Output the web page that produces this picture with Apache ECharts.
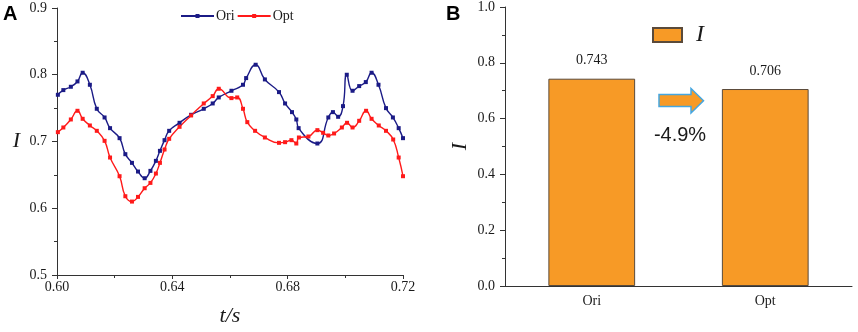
<!DOCTYPE html>
<html>
<head>
<meta charset="utf-8">
<script src="https://cdn.jsdelivr.net/npm/echarts@6/dist/echarts.min.js"></script>
<style>
  html, body { margin: 0; padding: 0; background: #fff; }
  #chart { width: 858px; height: 332px; }
</style>
</head>
<body>
<div id="chart"></div>
<script>
// panel A: I over time, original vs optimised
var tOri = [0.6003, 0.6022, 0.6048, 0.6071, 0.6089, 0.6114, 0.6138, 0.6165, 0.6184, 0.6217,
    0.6237, 0.6260, 0.6281, 0.6304, 0.6324, 0.6343, 0.6357, 0.6373, 0.6389, 0.6425,
    0.6465, 0.6509, 0.6540, 0.6561, 0.6605, 0.6645, 0.6656, 0.6689, 0.6721, 0.6770,
    0.6791, 0.6815, 0.6830, 0.6838, 0.6903, 0.6941, 0.6957, 0.6975, 0.6992, 0.7005,
    0.7025, 0.7048, 0.7071, 0.7091, 0.7115, 0.7141, 0.7165, 0.7185, 0.7200];
var iOri = [0.770, 0.777, 0.782, 0.790, 0.803, 0.785, 0.749, 0.736, 0.720, 0.705,
    0.681, 0.668, 0.655, 0.645, 0.656, 0.671, 0.686, 0.702, 0.716, 0.728,
    0.740, 0.749, 0.757, 0.766, 0.776, 0.785, 0.795, 0.815, 0.793, 0.774,
    0.757, 0.744, 0.733, 0.720, 0.697, 0.736, 0.744, 0.737, 0.753, 0.800,
    0.776, 0.783, 0.789, 0.803, 0.785, 0.750, 0.736, 0.720, 0.705];
var tOpt = [0.6003, 0.6022, 0.6048, 0.6071, 0.6089, 0.6114, 0.6138, 0.6165, 0.6184, 0.6217,
    0.6237, 0.6260, 0.6281, 0.6304, 0.6324, 0.6343, 0.6357, 0.6373, 0.6389, 0.6425,
    0.6465, 0.6509, 0.6540, 0.6561, 0.6605, 0.6625, 0.6645, 0.6660, 0.6687, 0.6721,
    0.6770, 0.6791, 0.6813, 0.6830, 0.6839, 0.6872, 0.6903, 0.6923, 0.6941, 0.6961,
    0.6988, 0.7006, 0.7025, 0.7048, 0.7072, 0.7091, 0.7116, 0.7141, 0.7166, 0.7185,
    0.7200];
var iOpt = [0.714, 0.721, 0.733, 0.746, 0.734, 0.724, 0.716, 0.701, 0.676, 0.648,
    0.618, 0.610, 0.617, 0.630, 0.638, 0.652, 0.668, 0.688, 0.704, 0.722,
    0.739, 0.757, 0.768, 0.779, 0.765, 0.766, 0.749, 0.729, 0.716, 0.706,
    0.698, 0.699, 0.702, 0.697, 0.706, 0.7075, 0.717, 0.713, 0.709, 0.712,
    0.721, 0.728, 0.721, 0.731, 0.746, 0.734, 0.724, 0.716, 0.703, 0.676,
    0.648];

// panel B: mean I
var barCats = ['Ori', 'Opt'];
var barVals = [0.743, 0.706];
var changeText = '-4.9%';

function pairs(xs, ys) {
    return xs.map(function (x, i) { return [x, ys[i]]; });
}

var serif = 'Liberation Serif';
var axisCol = '#333';
var txtCol = '#1a1a1a';

var chart = echarts.init(document.getElementById('chart'));
var option = {
    animation: false,
    backgroundColor: '#fff',
    grid: [
        { left: 57, top: 8, width: 346, height: 278 },
        { left: 505, top: 6, width: 347, height: 280 }
    ],
    legend: [
        {
            data: ['Ori', 'Opt'],
            left: 180,
            top: 9,
            padding: 0,
            itemWidth: 33,
            itemHeight: 5,
            itemGap: 2,
            textStyle: { fontFamily: serif, fontSize: 14, color: txtCol, padding: [0, 0, 0, -3] }
        },
        {
            data: ['I'],
            icon: 'rect',
            left: 652,
            top: 23,
            padding: 0,
            itemWidth: 29,
            itemHeight: 14,
            textStyle: {
                fontFamily: serif, fontStyle: 'italic', fontSize: 24,
                color: txtCol, padding: [0, 0, 0, 9]
            }
        }
    ],
    xAxis: [
        {
            type: 'value', gridIndex: 0,
            min: 0.6, max: 0.72, interval: 0.04,
            name: 't/s', nameLocation: 'middle', nameGap: 30,
            nameTextStyle: { fontFamily: serif, fontStyle: 'italic', fontSize: 22, color: txtCol },
            axisLine: { lineStyle: { color: axisCol } },
            axisTick: { length: 4, lineStyle: { color: axisCol } },
            minorTick: { show: true, splitNumber: 2, length: 3, lineStyle: { color: axisCol } },
            splitLine: { show: false },
            axisLabel: {
                margin: 5, fontFamily: serif, fontSize: 14, color: txtCol,
                formatter: function (v) { return v.toFixed(2); }
            }
        },
        {
            type: 'category', gridIndex: 1, data: barCats,
            axisLine: { lineStyle: { color: axisCol } },
            axisTick: { alignWithLabel: true, length: 4, lineStyle: { color: axisCol } },
            axisLabel: { margin: 8, fontFamily: serif, fontSize: 14, color: txtCol }
        }
    ],
    yAxis: [
        {
            type: 'value', gridIndex: 0,
            min: 0.5, max: 0.9, interval: 0.1,
            name: 'I', nameLocation: 'middle', nameRotate: 0, nameGap: 37,
            nameTextStyle: { fontFamily: serif, fontStyle: 'italic', fontSize: 22, color: txtCol },
            axisLine: { show: true, lineStyle: { color: axisCol } },
            axisTick: { show: true, length: 5, lineStyle: { color: axisCol } },
            minorTick: { show: true, splitNumber: 2, length: 3, lineStyle: { color: axisCol } },
            splitLine: { show: false },
            axisLabel: {
                margin: 10, fontFamily: serif, fontSize: 14, color: txtCol,
                formatter: function (v) { return v.toFixed(1); }
            }
        },
        {
            type: 'value', gridIndex: 1,
            min: 0, max: 1, interval: 0.2,
            name: 'I', nameLocation: 'middle', nameRotate: 90, nameGap: 34,
            nameTextStyle: { fontFamily: serif, fontStyle: 'italic', fontSize: 22, color: txtCol },
            axisLine: { show: true, lineStyle: { color: axisCol } },
            axisTick: { show: true, length: 5, lineStyle: { color: axisCol } },
            minorTick: { show: true, splitNumber: 2, length: 3, lineStyle: { color: axisCol } },
            splitLine: { show: false },
            axisLabel: {
                margin: 10, fontFamily: serif, fontSize: 14, color: txtCol,
                formatter: function (v) { return v.toFixed(1); }
            }
        }
    ],
    series: [
        {
            name: 'Ori', type: 'line', xAxisIndex: 0, yAxisIndex: 0,
            data: pairs(tOri, iOri),
            smooth: 0.5,
            symbol: 'rect', symbolSize: 4,
            lineStyle: { width: 1.4, color: '#1b1b86' },
            itemStyle: { color: '#1b1b86' }
        },
        {
            name: 'Opt', type: 'line', xAxisIndex: 0, yAxisIndex: 0,
            data: pairs(tOpt, iOpt),
            smooth: 0.5,
            symbol: 'rect', symbolSize: 4,
            lineStyle: { width: 1.4, color: '#ff1a1a' },
            itemStyle: { color: '#ff1a1a' }
        },
        {
            name: 'I', type: 'bar', xAxisIndex: 1, yAxisIndex: 1,
            data: barVals,
            barWidth: '50%',
            itemStyle: { color: '#F79A26', borderColor: '#5a4a3a', borderWidth: 1 },
            label: {
                show: true, position: 'top', distance: 11,
                fontFamily: serif, fontSize: 14, color: txtCol,
                formatter: function (p) { return p.value.toFixed(3); }
            }
        }
    ],
    graphic: [
        { type: 'text', left: 3, top: 4, style: { text: 'A', font: 'bold 20px "Liberation Sans"', fill: '#000' } },
        { type: 'text', left: 446, top: 4, style: { text: 'B', font: 'bold 20px "Liberation Sans"', fill: '#000' } },
        {
            type: 'polygon',
            shape: { points: [[659, 94.5], [691, 94.5], [691, 88.5], [703.5, 100.8], [691, 113], [691, 106.5], [659, 106.5]] },
            style: { fill: '#F79A26', stroke: '#45A6E0', lineWidth: 1.5 }
        },
        {
            type: 'text', x: 680, y: 135,
            style: { text: changeText, font: '20px "Liberation Sans"', fill: txtCol, align: 'center', verticalAlign: 'middle' }
        }
    ]
};
chart.setOption(option);
</script>
</body>
</html>
